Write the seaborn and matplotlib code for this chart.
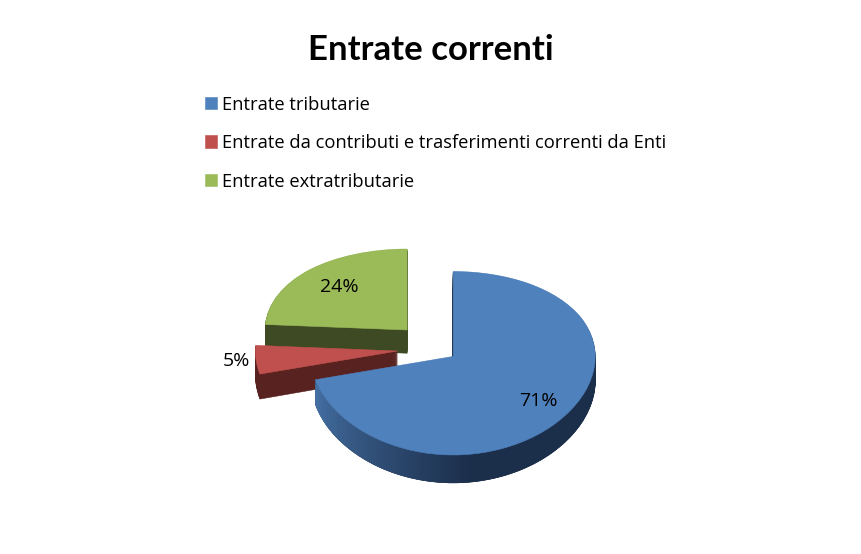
import numpy as np
import matplotlib
matplotlib.use("Agg")
import matplotlib.pyplot as plt
import seaborn as sns


LABELS = [
    "Entrate tributarie",
    "Entrate da contributi e trasferimenti correnti da Enti",
    "Entrate extratributarie",
]
VALUES = [71, 5, 24]

TOP_COLORS = ["#4F81BD", "#C0504D", "#9BBB59"]
SIDE_COLORS = ["#1B2E4A", "#582220", "#3E4A23"]
RIM_LIGHT = "#4672A6"

EXPLODE = [0.22, 0.22, 0.22]
RED_DROP = 0.055
PCT_DIST = [0.76, 1.14, 0.70]
DEPTH = 0.26
LAYERS = 32

# perspective of the tilted pie: far side is a bit flatter than the near side
SLOPE = 89.9
CURVE = 6.8
Y_ZERO_PX = 344.2


def persp(y):
    return SLOPE * np.asarray(y, dtype=float) - CURVE * np.asarray(y, dtype=float) ** 2


def persp_inv(p):
    p = np.asarray(p, dtype=float)
    return (SLOPE - np.sqrt(np.clip(SLOPE**2 - 4 * CURVE * p, 0, None))) / (2 * CURVE)


def draw_layer(ax, colors, dy, z_base):
    wedges, _ = ax.pie(
        VALUES,
        colors=colors,
        explode=EXPLODE,
        startangle=90,
        counterclock=False,
        center=(0, dy),
        wedgeprops={"linewidth": 0.4},
    )
    for rank, w in enumerate(wedges):
        w.set_edgecolor(colors[rank])
        w.set_zorder(z_base + (2 - rank) * 10)
        if rank == 1:
            cx, cy = w.center
            w.set_center((cx, cy - RED_DROP))
    return wedges


def draw_rim(ax, wedge):
    cx, cy = wedge.center
    t_start = np.radians(wedge.theta1 % 360 - 360)
    angles = np.linspace(t_start, 0, 140)
    palette = sns.blend_palette([RIM_LIGHT, SIDE_COLORS[0], SIDE_COLORS[0]], 140)
    for i in range(len(angles) - 1):
        a = angles[i:i + 2]
        xs = cx + np.cos(a)
        ys = cy + np.sin(a)
        ax.fill(
            [xs[0], xs[1], xs[1], xs[0]],
            [ys[0], ys[1], ys[1] - DEPTH, ys[0] - DEPTH],
            color=palette[i],
            lw=0.5,
            zorder=28,
        )


def main():
    sns.set_theme(style="white")
    plt.rcParams["font.family"] = ["Lato", "DejaVu Sans"]

    fig = plt.figure(figsize=(8.61, 5.54), dpi=100, facecolor="white")
    px_top = 200
    ax = fig.add_axes([0, 0, 1, (554 - px_top) / 554])

    for k in range(LAYERS, 0, -1):
        draw_layer(ax, SIDE_COLORS, -DEPTH * k / LAYERS, k / (LAYERS + 1))

    wedges, _, pcts = ax.pie(
        VALUES,
        colors=TOP_COLORS,
        explode=EXPLODE,
        startangle=90,
        counterclock=False,
        autopct="%.0f%%",
        pctdistance=0.76,
        wedgeprops={"linewidth": 0.4},
        textprops={"fontsize": 14, "family": ["Open Sans", "DejaVu Sans"], "color": "black"},
    )
    for rank, (w, t, d) in enumerate(zip(wedges, pcts, PCT_DIST)):
        w.set_edgecolor(TOP_COLORS[rank])
        w.set_zorder(29 - rank * 10 + 2)
        if rank == 1:
            cx, cy = w.center
            w.set_center((cx, cy - RED_DROP))
        mid = np.radians((w.theta1 + w.theta2) / 2)
        cx, cy = w.center
        t.set_position((cx + d * np.cos(mid), cy + d * np.sin(mid)))
        t.set_zorder(40)

    draw_rim(ax, wedges[0])

    ax.set_aspect("auto")
    ax.set_yscale("function", functions=(persp, persp_inv))
    ax.set_xlim((0 - 428.5) / 142, (861 - 428.5) / 142)
    ax.set_ylim(persp_inv(Y_ZERO_PX - 554), persp_inv(Y_ZERO_PX - px_top))
    ax.set_xticks([])
    ax.set_yticks([])
    ax.set_axis_off()

    fig.text(431 / 861, 1 - 50.5 / 554, "Entrate correnti", ha="center", va="center",
             fontsize=25, fontweight="bold", family=["Lato", "DejaVu Sans"], color="black")

    fig.legend(
        wedges,
        LABELS,
        loc="upper left",
        bbox_to_anchor=(201 / 861, 1 - 92 / 554),
        frameon=False,
        prop={"family": ["Open Sans", "DejaVu Sans"], "size": 13.25},
        labelcolor="black",
        handlelength=0.66,
        handleheight=0.66,
        handletextpad=0.27,
        labelspacing=1.11,
        borderpad=0.2,
        borderaxespad=0,
    )

    plt.savefig("out.png", dpi=100)
    plt.close()


if __name__ == "__main__":
    main()
